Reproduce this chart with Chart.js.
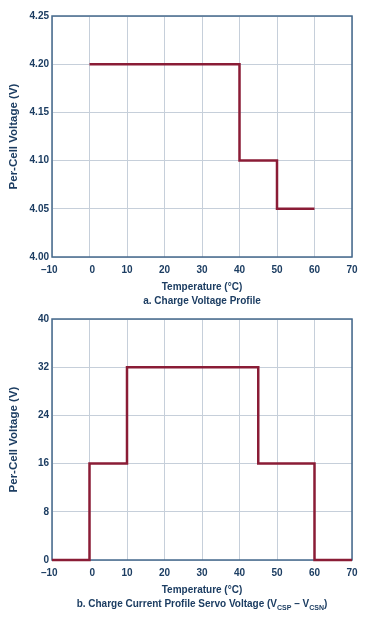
<!DOCTYPE html>
<html>
<head>
<meta charset="utf-8">
<script src="https://cdn.jsdelivr.net/npm/chart.js@4.4.1/dist/chart.umd.min.js"></script>
<style>
  html, body { margin: 0; padding: 0; background: #fff; }
  body { width: 386px; height: 619px; position: relative; overflow: hidden; font-family: 'Liberation Sans', Arial, sans-serif; }
  .wrap { position: absolute; left: 0; width: 386px; height: 303px; }
  .sub { position: absolute; left: 52px; width: 300px; text-align: center; font-weight: bold; font-size: 10px; color: #1c3d62; line-height: 12px; white-space: nowrap; }
  .sub sub { font-size: 7px; vertical-align: -3px; line-height: 0; }
</style>
</head>
<body>
<div class="wrap" style="top:0"><canvas id="cA" width="386" height="303"></canvas></div>
<div class="wrap" style="top:303px"><canvas id="cB" width="386" height="303"></canvas></div>
<div class="sub" style="top:295px">a. Charge Voltage Profile</div>
<div class="sub" style="top:598px">b. Charge Current Profile Servo Voltage (V<sub>CSP</sub> – V<sub>CSN</sub>)</div>
<script>
// ---- data ----
const tempsA = [0, 40, 50, 60];
const voltsA = [4.20, 4.10, 4.05, 4.05];
const tempsB = [-10, 0, 10, 45, 60, 70];
const voltsB = [0, 16, 32, 16, 0, 0];
const xTickValues = [-10, 0, 10, 20, 30, 40, 50, 60, 70];
const xTickLabels = ['–10\u2007', '\u20070', '10', '20', '30', '40', '50', '60', '70'];
const yTickLabelsA = ['4.00', '4.05', '4.10', '4.15', '4.20', '4.25'];
const yTickLabelsB = ['0', '8', '16', '24', '32', '40'];
const xTitle = 'Temperature (°C)';
const yTitle = 'Per-Cell Voltage (V)';

// ---- styles ----
const TXT = '#1c3d62';
const LINE = '#8a1c36';
const GRID = '#c6cfda';
const FRAME = '#45698c';
const FONT = { family: "'Liberation Sans', Arial, sans-serif", size: 10, weight: 'bold' };
const YTFONT = { family: "'Liberation Sans', Arial, sans-serif", size: 11.5, weight: 'bold' };

const framePlugin = {
  id: 'frame',
  beforeDatasetsDraw(chart) {
    const { ctx, chartArea: a } = chart;
    ctx.save();
    ctx.strokeStyle = FRAME;
    ctx.lineWidth = 1.5;
    ctx.strokeRect(a.left, a.top, a.right - a.left, a.bottom - a.top);
    ctx.restore();
  }
};

function makeChart(id, temps, volts, yMin, yMax, yStep, yLabels) {
  const pts = temps.map((t, i) => ({ x: t, y: volts[i] }));
  return new Chart(document.getElementById(id), {
    type: 'line',
    data: {
      datasets: [{
        data: pts,
        borderColor: LINE,
        borderWidth: 2.5,
        stepped: 'before',
        pointRadius: 0,
        fill: false,
        clip: 4
      }]
    },
    options: {
      responsive: false,
      animation: false,
      layout: { padding: { top: 16, right: 34, left: 0, bottom: 10 } },
      plugins: { legend: { display: false }, tooltip: { enabled: false } },
      scales: {
        x: {
          type: 'linear',
          min: -10, max: 70,
          afterBuildTicks(s) { s.ticks = xTickValues.map(v => ({ value: v })); },
          afterFit(s) { s.height = 36; },
          grid: { color: GRID, lineWidth: 1, drawTicks: false },
          border: { display: false },
          ticks: {
            color: TXT, font: FONT, padding: 7, maxRotation: 0, autoSkip: false,
            callback: (v) => { const i = xTickValues.indexOf(v); return i >= 0 ? xTickLabels[i] : ''; }
          },
          title: { display: true, text: xTitle, color: TXT, font: FONT, padding: { top: 0, bottom: 0 } }
        },
        y: {
          type: 'linear',
          min: yMin, max: yMax,
          afterBuildTicks(s) { s.ticks = yLabels.map((l, i) => ({ value: yMin + i * yStep })); },
          afterFit(s) { s.width = 52; },
          grid: { color: GRID, lineWidth: 1, drawTicks: false },
          border: { display: false },
          ticks: {
            color: TXT, font: FONT, padding: 3, autoSkip: false,
            callback: (v, i) => yLabels[i]
          },
          title: { display: true, text: yTitle, color: TXT, font: YTFONT, padding: { top: 7, bottom: 0 } }
        }
      }
    },
    plugins: [framePlugin]
  });
}

makeChart('cA', tempsA, voltsA, 4.00, 4.25, 0.05, yTickLabelsA);
makeChart('cB', tempsB, voltsB, 0, 40, 8, yTickLabelsB);
</script>
</body>
</html>
